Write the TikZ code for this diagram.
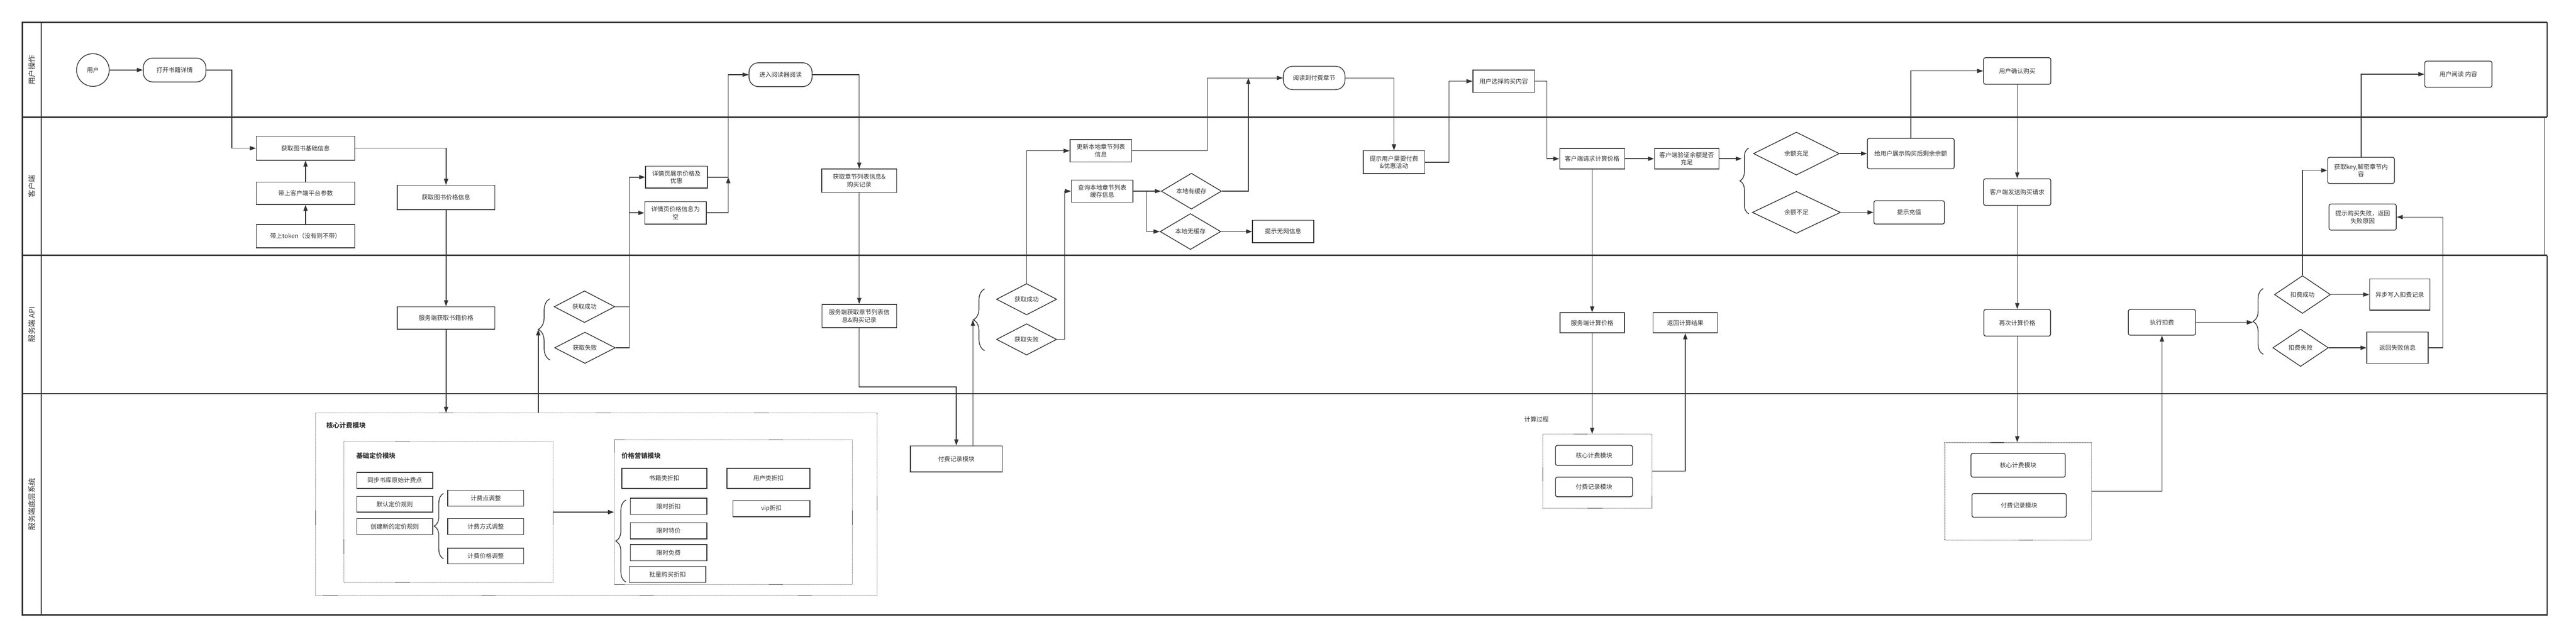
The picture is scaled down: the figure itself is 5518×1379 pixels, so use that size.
\documentclass[tikz,border=0pt]{standalone}
\usepackage{fontspec}
\setmainfont{Noto Sans CJK SC}
\usetikzlibrary{arrows.meta,shapes.geometric,decorations.pathreplacing,calc}
\definecolor{ln}{HTML}{333333}
\definecolor{dl}{HTML}{555555}
\begin{document}
\begin{tikzpicture}[x=1pt,y=-1pt,
  every node/.style={font=\fontsize{13}{16}\selectfont, align=center, inner sep=1pt, text=ln},
  sz/.style 2 args={minimum width=#1pt, minimum height=#2pt},
  box/.style={draw=ln, fill=white, line width=1.6pt},
  rbox/.style={box, rounded corners=4pt},
  term/.style={box, rounded corners=20pt},
  dia/.style={diamond, draw=ln, fill=white, line width=1.6pt, inner sep=0pt},
  conn/.style={draw=ln, line width=1.6pt},
  arr/.style={conn, -{Triangle[length=13pt,width=9pt]}},
  lane/.style={draw=ln, line width=2.6pt},
  dbox/.style={draw=dl, densely dotted, line width=1.2pt},
  brc/.style={draw=ln, line width=1.6pt, decorate, decoration={brace, amplitude=#1}},
  lbl/.style={font=\fontsize{14}{16}\selectfont\bfseries, anchor=west},
  lanelbl/.style={rotate=90, font=\fontsize{16}{18}\selectfont},
]
\useasboundingbox (0,0) rectangle (5518,1379);
% ---------- lanes ----------
\draw[lane] (5456,48) -- (48,48) -- (48,1317) -- (5456,1317) -- (5456,547);
\draw[lane] (5456,48) -- (5456,251);
\draw[draw=ln, line width=2pt] (5450,251) -- (5450,547);
\draw[lane] (48,251) -- (5456,251);
\draw[lane] (48,547) -- (5456,547);
\draw[lane] (48,843) -- (5456,843);
\draw[lane] (88,48) -- (88,1317);
\node[lanelbl] (l1) at (68,150) {用户操作};
\node[lanelbl] (l2) at (68,399) {客户端};
\node[lanelbl] (l3) at (68,695) {服务端 API};
\node[lanelbl] (l4) at (68,1080) {服务端底层系统};

% ---------- lane 1 ----------
\node[circle, draw=ln, fill=white, line width=1.6pt, minimum size=70pt] (user) at (199,150) {用户};
\node[term, sz={134}{51}] (open) at (374,150) {打开书籍详情};
\node[term, sz={135}{51}] (reader) at (1672,160) {进入阅读器阅读};
\node[term, sz={132}{50}] (paych) at (2815,167) {阅读到付费章节};
\node[box, sz={132}{48}] (choose) at (3221,174) {用户选择购买内容};
\node[rbox, sz={144}{57}] (confirm) at (4321,152) {用户确认购买};
\node[rbox, sz={144}{56}] (readc) at (5266,159) {用户阅读 内容};

% ---------- lane 2 ----------
\node[box, sz={211}{51}] (basic) at (654.5,317.5) {获取图书基础信息};
\node[box, sz={211}{48}] (platf) at (654.5,414) {带上客户端平台参数};
\node[box, sz={211}{50}] (token) at (654.5,506) {带上token（没有则不带）};
\node[box, sz={209}{52}] (price) at (955.5,423) {获取图书价格信息};
\node[box, sz={132}{47}] (show) at (1449,379.5) {详情页展示价格及\\优惠};
\node[box, sz={132}{48}] (empty) at (1447,456) {详情页价格信息为\\空};
\node[box, sz={161}{50}] (chlist) at (1840.5,387) {获取章节列表信息\&\\购买记录};
\node[box, sz={132}{48}] (update) at (2358,323) {更新本地章节列表\\信息};
\node[box, sz={132}{47}] (query) at (2361,409.5) {查询本地章节列表\\缓存信息};
\node[dia, sz={129}{67}] (hasc) at (2552,409.5) {本地有缓存};
\node[dia, sz={130}{66}] (noc) at (2550,496) {本地无缓存};
\node[box, sz={131}{48}] (nonet) at (2748.5,496) {提示无网信息};
\node[box, sz={132}{49}] (tipfee) at (2986,347.5) {提示用户需要付费\\\&优惠活动};
\node[box, sz={139}{44}] (reqcalc) at (3410.5,340) {客户端请求计算价格};
\node[box, sz={138}{44}] (verify) at (3613,340) {客户端验证余额是否\\充足};
\node[dia, sz={184}{92}] (enough) at (3848,329) {余额充足};
\node[dia, sz={189}{90}] (notenough) at (3848,455) {余额不足};
\node[rbox, sz={186}{65}] (showbal) at (4093,329) {给用户展示购买后剩余余额};
\node[rbox, sz={151}{50}] (recharge) at (4089.5,455) {提示充值};
\node[rbox, sz={144}{57}] (sendreq) at (4321,411.5) {客户端发送购买请求};
\node[rbox, sz={143}{56}] (getkey) at (5057.5,365) {获取key,解密章节内\\容};
\node[rbox, sz={144}{56}] (fail) at (5061,465) {提示购买失败，返回\\失败原因};

% ---------- lane 3 ----------
\node[box, sz={209}{48}] (srvprice) at (955.5,681) {服务端获取书籍价格};
\node[dia, sz={130}{68}] (ok1) at (1252,657) {获取成功};
\node[dia, sz={130}{67}] (ko1) at (1253,745) {获取失败};
\node[box, sz={160}{50}] (srvch) at (1840.5,677) {服务端获取章节列表信\\息\&购买记录};
\node[dia, sz={129}{67}] (ok2) at (2199,641) {获取成功};
\node[dia, sz={129}{67}] (ko2) at (2199,727) {获取失败};
\node[box, sz={138}{43}] (srvcalc) at (3410.5,691.5) {服务端计算价格};
\node[box, sz={138}{43}] (retcalc) at (3610,691.5) {返回计算结果};
\node[rbox, sz={143}{57}] (recalc) at (4321,691.5) {再次计算价格};
\node[rbox, sz={144}{55}] (deduct) at (4631,690.5) {执行扣费};
\node[dia, sz={120}{81}] (dok) at (4932,631) {扣费成功};
\node[dia, sz={119}{80}] (dko) at (4928,745) {扣费失败};
\node[box, sz={129}{67}] (asyncw) at (5140.5,631) {异步写入扣费记录};
\node[box, sz={131}{67}] (retfail) at (5135.5,745) {返回失败信息};

% ---------- lane 4 ----------
\node[dbox, sz={1203}{390}] (core) at (1277.5,1080) {};
\node[lbl] (coret) at (698,911) {核心计费模块};
\node[dbox, sz={448}{302}] (bmod) at (961,1097) {};
\node[lbl] (bmodt) at (762,976) {基础定价模块};
\node[box, sz={163}{34}] (b1) at (845.5,1029) {同步书库原始计费点};
\node[box, sz={163}{34}] (b2) at (845.5,1080) {默认定价规则};
\node[box, sz={163}{34}] (b3) at (845.5,1128) {创建新的定价规则};
\node[box, sz={163}{34}] (c1) at (1040.5,1067) {计费点调整};
\node[box, sz={163}{34}] (c2) at (1040.5,1128) {计费方式调整};
\node[box, sz={163}{34}] (c3) at (1040.5,1191) {计费价格调整};
\node[dbox, sz={510}{310}] (mmod) at (1571,1097) {};
\node[lbl] (mmodt) at (1330,976) {价格营销模块};
\node[box, sz={182}{43}] (m1) at (1423,1024.5) {书籍类折扣};
\node[box, sz={178}{43}] (m2) at (1646,1024.5) {用户类折扣};
\node[box, sz={164}{35}] (m3) at (1432,1084.5) {限时折扣};
\node[box, sz={165}{35}] (m4) at (1652.5,1089.5) {vip折扣};
\node[box, sz={164}{35}] (m5) at (1432,1137) {限时特价};
\node[box, sz={164}{35}] (m6) at (1432,1184) {限时免费};
\node[box, sz={164}{34}] (m7) at (1430,1230.5) {批量购买折扣};
\node[box, sz={197}{56}] (feerec) at (2048.5,983) {付费记录模块};
\node[anchor=west] (calct) at (3264,898) {计算过程};
\node[dbox, sz={234}{159}] (dbox1) at (3422,1009.5) {};
\node[rbox, sz={165}{43}] (k1) at (3414.5,975.5) {核心计费模块};
\node[rbox, sz={165}{42}] (k2) at (3414.5,1043) {付费记录模块};
\node[dbox, sz={314}{209}] (dbox2) at (4323,1052.5) {};
\node[rbox, sz={202}{51}] (k3) at (4323,996.5) {核心计费模块};
\node[rbox, sz={202}{51}] (k4) at (4325,1082.5) {付费记录模块};

% ---------- braces ----------
\draw[brc=20pt] (950,1197) -- (950,1057);
\draw[brc=22pt] (1341,1247) -- (1341,1071);
\draw[brc=25pt] (1178,771) -- (1178,640);
\draw[brc=24pt] (2109,751) -- (2109,619);
\draw[brc=19pt] (3746,458) -- (3746,317);
\draw[brc=22pt] (4848,759) -- (4848,618);
\coordinate (br1tip) at (1153,705.5);
\coordinate (br3tip) at (2084,685);
\coordinate (br4tip) at (3731,387.5);
\coordinate (br5tip) at (4826,688.5);

% ---------- connectors ----------
\coordinate (j1) at (1348,0);
\coordinate (j2) at (1560,0);
\coordinate (j3) at (2586,0);
\coordinate (j4) at (2674,0);
\coordinate (j5) at (2456,0);

\draw[arr] (user) -- (open);
\draw[arr] (open.east) -- ++(55,0) |- (basic.west);
\draw[arr] (token) -- (platf);
\draw[arr] (platf) -- (basic);
\draw[arr] (basic.east) -| (price.north);
\draw[arr] (price) -- (srvprice);
\draw[arr] (srvprice.south) -- (srvprice.south |- core.north);
\draw[arr] (br1tip |- core.north) -- (br1tip);
\draw[conn] (ok1.east) -- (ok1.east -| j1);
\draw[conn] (ko1.east) -- (ko1.east -| j1) -- (j1 |- show.west);
\draw[arr] (j1 |- show.west) -- (show.west);
\draw[arr] (j1 |- empty.west) -- (empty.west);
\draw[arr] (empty.east) -- (empty.east -| j2) -- (j2 |- show.east);
\draw[arr] (show.east) -- (show.east -| j2) |- (reader.west);
\draw[arr] (reader.east) -| (chlist.north);
\draw[arr] (chlist) -- (srvch);
\draw[arr] (srvch.south) -- ++(0,126) -| (feerec.north);
\draw[arr] (br3tip |- feerec.north) -- (br3tip);
\draw[arr] (ok2.north) |- (update.west);
\draw[arr] (ko2.east) -- ++(16,0) |- (query.west);
\draw[arr] (update.east) -- (update.east -| j3) -- (j3 |- paych.west) -- (paych.west);
\draw[arr] (hasc.east) -- (hasc.east -| j4) -- (j4 |- paych.west);
\draw[arr] (query.east) -- (hasc.west);
\draw[arr] (query.east -| j5) |- (noc.west);
\draw[arr] (noc) -- (nonet);
\draw[arr] (paych.east) -| (tipfee.north);
\draw[arr] (tipfee.east) -- ++(51,0) |- (choose.west);
\draw[arr] (choose.east) -- ++(26,0) |- (reqcalc.west);
\draw[arr] (reqcalc) -- (verify);
\draw[arr] (verify.east) -- (verify.east -| br4tip);
\draw[arr] (enough) -- (showbal);
\draw[arr] (notenough) -- (recharge);
\draw[arr] (showbal.north) |- (confirm.west);
\draw[arr] (confirm) -- (sendreq);
\draw[arr] (reqcalc) -- (srvcalc);
\draw[arr] (srvcalc.south) -- (srvcalc.south |- dbox1.north);
\draw[arr] (dbox1.east) -| (retcalc.south);
\draw[arr] (sendreq) -- (recalc);
\draw[arr] (recalc.south) -- (recalc.south |- dbox2.north);
\draw[arr] (dbox2.east) -| (deduct.south);
\draw[arr] (deduct.east) -- (deduct.east -| br5tip);
\draw[arr] (dok) -- (asyncw);
\draw[arr] (dko) -- (retfail);
\draw[arr] (dok.north) |- (getkey.west);
\draw[arr] (getkey.north) |- (readc.west);
\draw[arr] (retfail.east) -- ++(31,0) |- (fail.east);
\draw[arr] (bmod.east) -- (mmod.west);
\end{tikzpicture}
\end{document}
